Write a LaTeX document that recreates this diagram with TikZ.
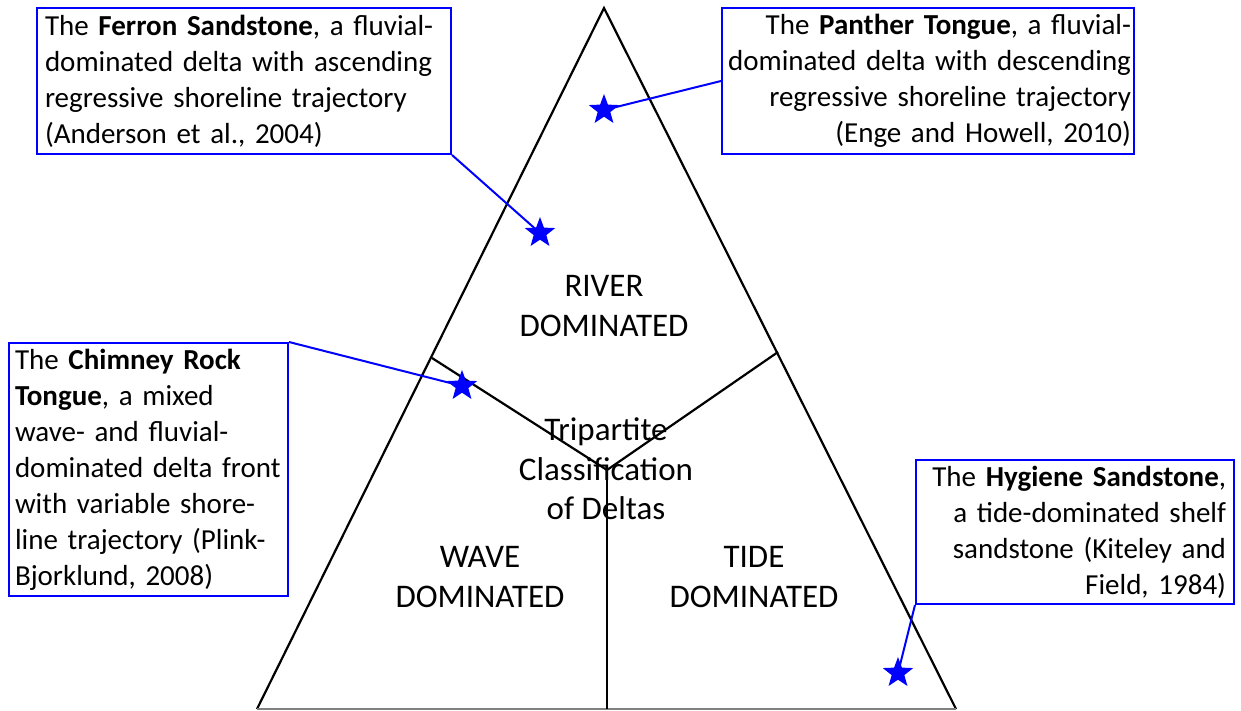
\documentclass[tikz,border=0pt]{standalone}
\usepackage{fontspec}
\setmainfont{Carlito}
\usetikzlibrary{shapes.geometric}

\begin{document}
\begin{tikzpicture}[x=1pt,y=-1pt,
    note/.style={draw=blue, line width=2pt, inner xsep=8pt, inner ysep=0pt,
      font=\fontsize{29}{36}\selectfont, anchor=north west},
    starmark/.style={star, star points=5, star point ratio=2.4, fill=blue,
      inner sep=0pt, minimum size=32pt},
    link/.style={blue, line width=2pt},
    edge/.style={black, line width=2.2pt},
    zone/.style={align=center, font=\fontsize{33}{39.5}\selectfont}]
    \useasboundingbox (0,0) rectangle (1241,710);

    % Triangle corners
    \coordinate (top) at (604, 8);
    \coordinate (bl) at (257, 709);
    \coordinate (br) at (956, 709);

    % Tripartite split
    \coordinate (mid) at (607, 470);
    \coordinate (ml) at (432, 358);
    \coordinate (mr) at (778, 352);
    \coordinate (mb) at (607, 709);

    \draw[edge] (bl) -- (top) -- (br);
    \draw[gray, line width=2pt] (bl) -- (br);
    \draw[edge] (ml) -- (mid) -- (mr);
    \draw[edge] (mid) -- (mb);

    % Fields
    \node[zone] (river) at (604, 306) {RIVER\\DOMINATED};
    \node[zone] (wave) at (480, 577) {WAVE\\DOMINATED};
    \node[zone] (tide) at (754, 577) {TIDE\\DOMINATED};
    \node[zone] (title) at (606, 469) {Tripartite\\Classification\\of Deltas};

    % Examples
    \node[note, minimum width=414pt, minimum height=146pt, text width=398pt, align=left] (ferron) at (36, 7)
      {The \textbf{Ferron Sandstone}, a fluvial-\\dominated delta with ascending\\regressive shoreline trajectory\\(Anderson et al., 2004)};
    \node[note, minimum width=412pt, minimum height=146pt, text width=406pt, align=right, inner xsep=3pt] (panther) at (721, 7)
      {The \textbf{Panther Tongue}, a fluvial-\\dominated delta with descending\\regressive shoreline trajectory\\(Enge and Howell, 2010)};
    \node[note, minimum width=279pt, minimum height=253pt, text width=267pt, align=left, inner xsep=6pt] (chimney) at (8, 342)
      {The \textbf{Chimney Rock}\\\textbf{Tongue}, a mixed\\wave- and fluvial-\\dominated delta front\\with variable shore-\\line trajectory (Plink-\\Bjorklund, 2008)};
    \node[note, minimum width=318pt, minimum height=144pt, text width=302pt, align=right] (hygiene) at (915, 459)
      {The \textbf{Hygiene Sandstone},\\a tide-dominated shelf\\sandstone (Kiteley and\\Field, 1984)};

    % Stars
    \node[starmark] (sferron) at (540, 233) {};
    \node[starmark] (spanther) at (604, 110) {};
    \node[starmark] (schimney) at (462, 386) {};
    \node[starmark] (shygiene) at (898, 673) {};

    \draw[link] (ferron.south east) -- (sferron.center);
    \draw[link] (panther.west) -- (spanther.center);
    \draw[link] (chimney.north east) -- (schimney.center);
    \draw[link] (hygiene.south west) -- (shygiene.center);

\end{tikzpicture}
\end{document}
